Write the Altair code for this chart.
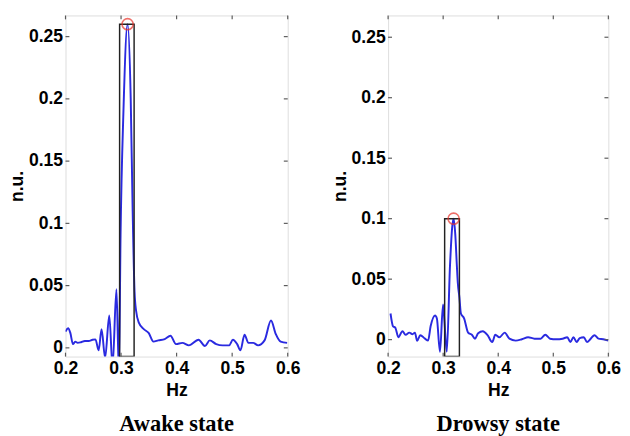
import altair as alt
import pandas as pd

# ---------------- data ----------------
awake_hz = [0.2000, 0.2047, 0.2087, 0.2134, 0.2174, 0.2221, 0.2278, 0.2348, 0.2417, 0.2487,
            0.2539, 0.2597, 0.2649, 0.2713, 0.2788, 0.2847, 0.2917, 0.2962, 0.2991, 0.3043,
            0.3118, 0.3174, 0.3209, 0.3243, 0.3270, 0.3322, 0.3409, 0.3496, 0.3583, 0.3670,
            0.3786, 0.3890, 0.3988, 0.4104, 0.4221, 0.4395, 0.4510, 0.4597, 0.4713, 0.4830,
            0.4944, 0.5014, 0.5090, 0.5148, 0.5223, 0.5292, 0.5379, 0.5466, 0.5583, 0.5699,
            0.5786, 0.5873, 0.5990]
awake_nu = [0.013, 0.0157, 0.012, 0.003, 0.005, 0.004, 0.0045, 0.0055, 0.0055, 0.0065,
            0.0068, -0.002, 0.015, -0.008, 0.026, -0.015, 0.047, -0.02, 0.09, 0.19,
            0.26, 0.20, 0.11, 0.045, 0.03, 0.02, 0.015, 0.012, 0.005, 0.006,
            0.007, 0.0097, 0.003, 0.004, 0.002, 0.0065, 0.0015, 0.006, 0.003, 0.002,
            0.002, 0.0065, 0.003, -0.002, 0.0105, 0.004, 0.004, 0.002, 0.006, 0.022,
            0.011, 0.005, 0.004]

drowsy_hz = [0.2044, 0.2090, 0.2130, 0.2187, 0.2261, 0.2317, 0.2385, 0.2443, 0.2487, 0.2528,
             0.2584, 0.2670, 0.2726, 0.2772, 0.2852, 0.2886, 0.2942, 0.2998, 0.3022, 0.3066,
             0.3124, 0.3164, 0.3190, 0.3220, 0.3249, 0.3266, 0.3295, 0.3322, 0.3380, 0.3453,
             0.3521, 0.3578, 0.3635, 0.3721, 0.3806, 0.3891, 0.3947, 0.4020, 0.4118, 0.4203,
             0.4317, 0.4429, 0.4543, 0.4658, 0.4770, 0.4855, 0.4940, 0.5055, 0.5169, 0.5254,
             0.5310, 0.5366, 0.5424, 0.5480, 0.5554, 0.5612, 0.5680, 0.5748, 0.5821, 0.5906,
             0.6000]
drowsy_nu = [0.0216, 0.011, 0.010, 0.002, 0.007, 0.004, 0.0058, 0.0045, 0.0058, -0.001,
             0.0037, 0.0008, -0.0008, 0.011, 0.020, 0.0175, -0.010, 0.029, 0.016, -0.010,
             0.061, 0.093, 0.100, 0.087, 0.061, 0.047, 0.035, 0.0216, 0.0176, 0.0058,
             0.004, 0.0008, 0.0053, 0.007, 0.0037, -0.002, 0.004, 0.0019, 0.0058, 0.0008,
             -0.0008, 0.0003, 0.002, 0.0008, 0.0008, 0.004, 0.0008, 0.0003, 0.0008, 0.002,
             -0.002, 0.002, -0.002, 0.0013, 0.002, -0.002, 0.0008, 0.0037, 0.0008, 0.0003,
             -0.0008]

# band rectangles (left edge, right edge, top) and peak markers
awake_band = [0.2974, 0.3235, 0.26]
drowsy_band = [0.3027, 0.3295, 0.10]
awake_peak = [0.3118, 0.26]
drowsy_peak = [0.3190, 0.10]

x_ticks = [0.2, 0.3, 0.4, 0.5, 0.6]
y_ticks = [0, 0.05, 0.1, 0.15, 0.2, 0.25]
awake_ydomain = [-0.007, 0.267]
drowsy_ydomain = [-0.014, 0.268]
x_domain = [0.2, 0.6]

panel_titles = ["Awake state", "Drowsy state"]

LINE_BLUE = "#2a2ae0"
FRAME = "#5a5a5a"


def panel(hz, nu, band, peak, ydom, title, W, H):
    line_df = pd.DataFrame({"hz": hz, "nu": nu})
    band_df = pd.DataFrame({"x0": [band[0]], "x1": [band[1]], "top": [band[2]], "bot": [ydom[0]]})
    peak_df = pd.DataFrame({"hz": [peak[0]], "nu": [peak[1]]})
    xt_df = pd.DataFrame({"t": x_ticks})
    yt_df = pd.DataFrame({"t": y_ticks})

    xs = alt.Scale(domain=x_domain, nice=False, zero=False)
    ys = alt.Scale(domain=ydom, nice=False, zero=False)

    xaxis = alt.Axis(values=x_ticks, format="~g", title="Hz", grid=False, ticks=False,
                     domain=False, labelFont="Liberation Sans", labelFontWeight="bold",
                     labelFontSize=18, labelColor="black", labelPadding=3,
                     titleFont="Liberation Sans", titleFontWeight="bold", titleFontSize=18,
                     titleColor="black", titlePadding=5, labelFlush=False)
    yaxis = alt.Axis(values=y_ticks, format="~g", title="n.u.", grid=False, ticks=False,
                     domain=False, labelFont="Liberation Sans", labelFontWeight="bold",
                     labelFontSize=18, labelColor="black", labelPadding=3,
                     titleFont="Liberation Sans", titleFontWeight="bold", titleFontSize=18,
                     titleColor="black", titlePadding=2)

    line = alt.Chart(line_df).mark_line(color=LINE_BLUE, strokeWidth=2, clip=True,
                                        interpolate="monotone").encode(
        x=alt.X("hz:Q", scale=xs, axis=xaxis),
        y=alt.Y("nu:Q", scale=ys, axis=yaxis),
        order="hz:Q",
    )
    rect = alt.Chart(band_df).mark_rect(fill=None, stroke="#222222", strokeWidth=1.5, clip=True).encode(
        x=alt.X("x0:Q", scale=xs), x2="x1:Q",
        y=alt.Y("top:Q", scale=ys), y2="bot:Q",
    )
    pt = alt.Chart(peak_df).mark_point(shape="circle", filled=False, color="#e8332a",
                                       strokeWidth=1.6, size=130).encode(
        x=alt.X("hz:Q", scale=xs), y=alt.Y("nu:Q", scale=ys),
    )
    tk = dict(color=FRAME, strokeWidth=1.2)
    tl = 4
    t_left = alt.Chart(yt_df).mark_rule(**tk).encode(
        y=alt.Y("t:Q", scale=ys), x=alt.value(0), x2=alt.value(tl))
    t_right = alt.Chart(yt_df).mark_rule(**tk).encode(
        y=alt.Y("t:Q", scale=ys), x=alt.value(W - tl), x2=alt.value(W))
    t_top = alt.Chart(xt_df).mark_rule(**tk).encode(
        x=alt.X("t:Q", scale=xs), y=alt.value(0), y2=alt.value(tl))
    t_bot = alt.Chart(xt_df).mark_rule(**tk).encode(
        x=alt.X("t:Q", scale=xs), y=alt.value(H - tl), y2=alt.value(H))

    return alt.layer(line, rect, pt, t_left, t_right, t_top, t_bot).properties(
        width=W, height=H,
        title=alt.TitleParams(title, orient="bottom", font="Liberation Serif", fontSize=23,
                              fontWeight="bold", color="black", offset=14),
    )


left = panel(awake_hz, awake_nu, awake_band, awake_peak, awake_ydomain, panel_titles[0], 228, 350)
right = panel(drowsy_hz, drowsy_nu, drowsy_band, drowsy_peak, drowsy_ydomain, panel_titles[1], 226, 350)

chart = alt.hconcat(left, right, spacing=30).properties(padding=0).configure_view(
    stroke=FRAME, strokeWidth=1.5
).configure(background="white")

chart.save("out.html", embed_options={"renderer": "svg", "actions": False})
